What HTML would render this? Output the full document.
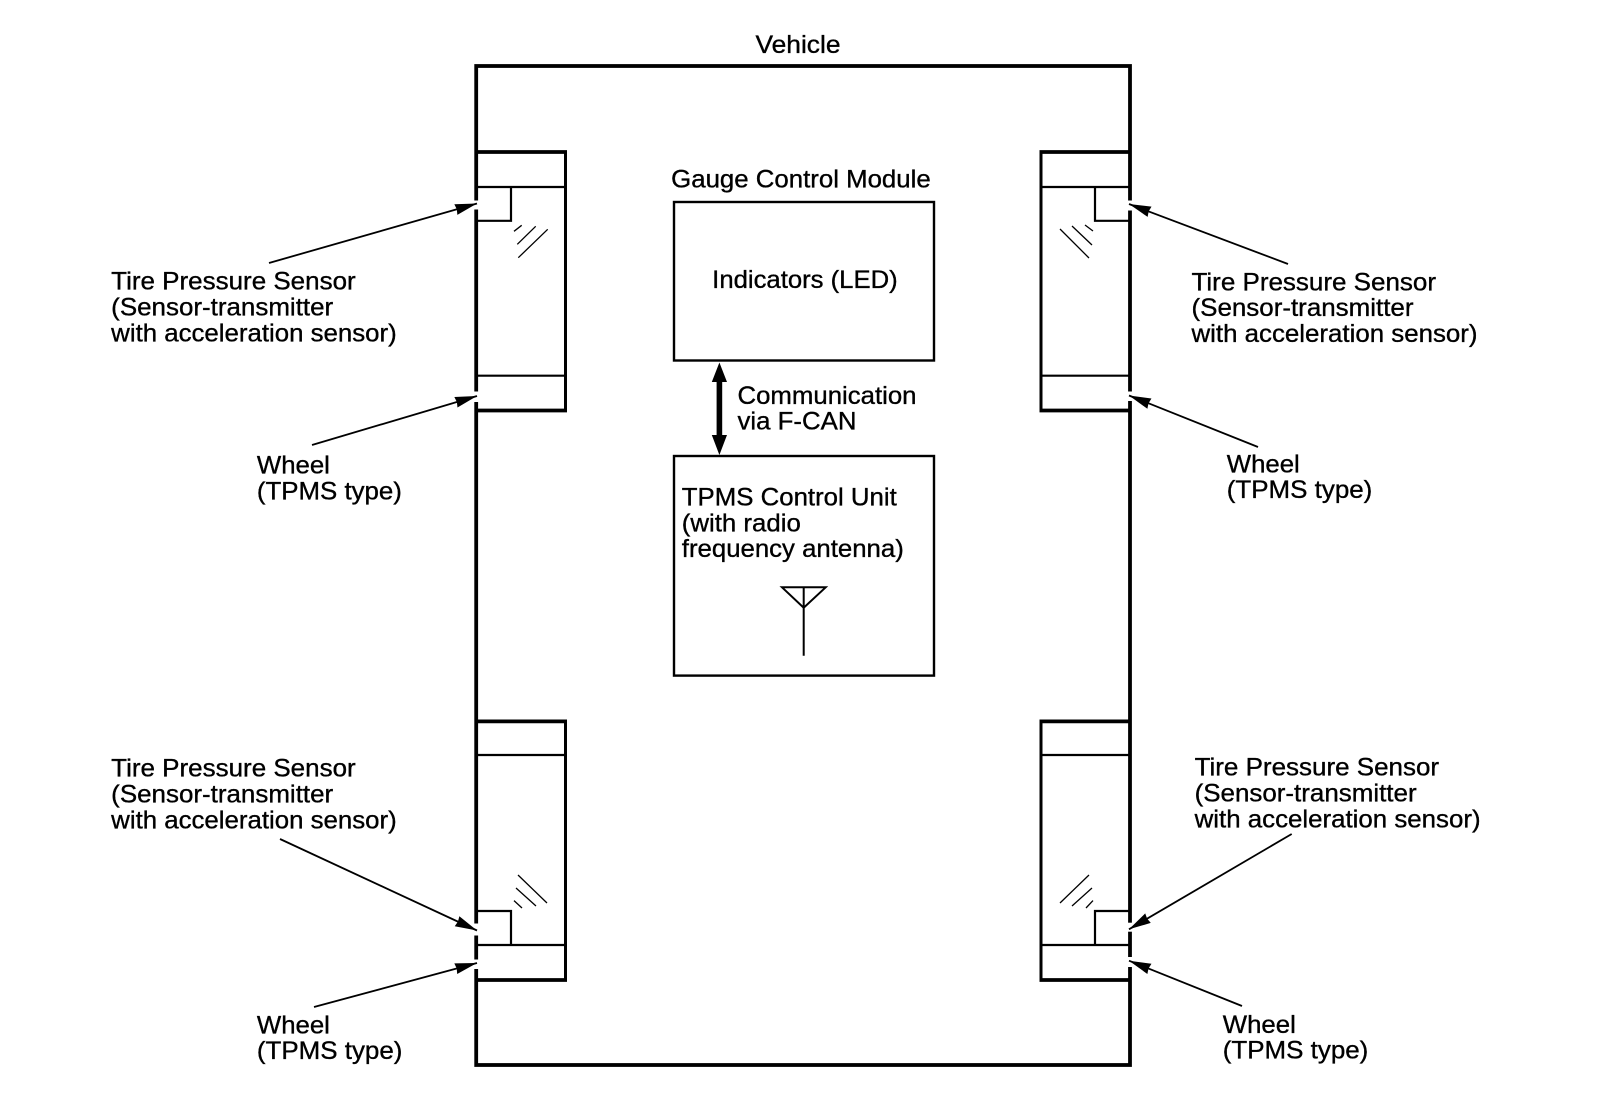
<!DOCTYPE html>
<html>
<head>
<meta charset="utf-8">
<style>
html,body{margin:0;padding:0;background:#fff;width:1600px;height:1104px;overflow:hidden}
svg{display:block}
text{font-family:"Liberation Sans",sans-serif;font-size:25px;fill:#000;stroke:#000;stroke-width:.35px}
</style>
</head>
<body>
<svg width="1600" height="1104" viewBox="0 0 1600 1104" xmlns="http://www.w3.org/2000/svg">
<defs>
<marker id="a" markerUnits="userSpaceOnUse" markerWidth="26" markerHeight="14" refX="24" refY="7" orient="auto"><path d="M24,7 L2,1.5 L3,7 L2,12.5 Z" fill="#000"/></marker>
</defs>
<rect width="1600" height="1104" fill="#fff"/>

<!-- Vehicle outline -->
<rect x="476.2" y="66" width="653.8" height="999" fill="none" stroke="#000" stroke-width="3.8"/>

<g fill="none" stroke="#000">
<!-- Wheel TL -->
<path d="M476,152 H565.5 V410.5 H476" stroke-width="3"/>
<path d="M476,152 H567 M476,410.5 H567" stroke-width="3.8"/>
<path d="M476,187 H565 M476,375.7 H565" stroke-width="2.2"/>
<path d="M511,187 V220.8 H476" stroke-width="2.2"/>
<!-- Wheel TR -->
<path d="M1130,152 H1041 V410.5 H1130" stroke-width="3"/>
<path d="M1130,152 H1039.5 M1130,410.5 H1039.5" stroke-width="3.8"/>
<path d="M1130,187 H1041 M1130,375.7 H1041" stroke-width="2.2"/>
<path d="M1095,187 V220.8 H1130" stroke-width="2.2"/>
<!-- Wheel BL -->
<path d="M476,721.4 H565.5 V980 H476" stroke-width="3"/>
<path d="M476,721.4 H567 M476,980 H567" stroke-width="3.8"/>
<path d="M476,755 H565 M476,945 H565" stroke-width="2.2"/>
<path d="M476,911 H511 V945" stroke-width="2.2"/>
<!-- Wheel BR -->
<path d="M1130,721.4 H1041 V980 H1130" stroke-width="3"/>
<path d="M1130,721.4 H1039.5 M1130,980 H1039.5" stroke-width="3.8"/>
<path d="M1130,755 H1041 M1130,945 H1041" stroke-width="2.2"/>
<path d="M1130,911 H1095 V945" stroke-width="2.2"/>
<!-- Hatches -->
<g stroke-width="1.3">
<path d="M514,231.3 L521.7,225.3 M517.3,244.3 L535.7,226.3 M518.3,257.7 L547.7,229.3"/>
<path d="M1060,229 L1089,258 M1072,226 L1092,245 M1085,225 L1093,231"/>
<path d="M518,875 L547,903 M516,888 L536,906 M514,900.6 L522,908"/>
<path d="M1089,875 L1060,903 M1092,888 L1072,906 M1093,900.6 L1086,908"/>
</g>
<!-- Centre boxes -->
<rect x="674" y="202" width="260" height="158.5" stroke-width="2.4"/>
<rect x="674" y="456" width="260" height="219.6" stroke-width="2.4"/>
<!-- Antenna -->
<path d="M782,587.3 H825.7 L803.7,607.7 Z M803.7,587.3 V655.7" stroke-width="2"/>
</g>

<!-- Gaps in outline at arrow tips -->
<g fill="#fff">
<rect x="473" y="200.5" width="6.5" height="9"/>
<rect x="473" y="391.5" width="6.5" height="10.5"/>
<rect x="1126.5" y="200.5" width="6.5" height="10"/>
<rect x="1126.5" y="391.5" width="6.5" height="9.5"/>
<rect x="473" y="923.5" width="6.5" height="12"/>
<rect x="473" y="959.5" width="6.5" height="9.5"/>
<rect x="1126.5" y="922.7" width="6.5" height="9"/>
<rect x="1126.5" y="957" width="6.5" height="10"/>
</g>

<!-- Leader arrows -->
<g stroke="#000" stroke-width="1.8" fill="none">
<line x1="269" y1="263" x2="477" y2="203.5" marker-end="url(#a)"/>
<line x1="312" y1="445" x2="477" y2="396" marker-end="url(#a)"/>
<line x1="1288" y1="264" x2="1129" y2="204" marker-end="url(#a)"/>
<line x1="1258" y1="447" x2="1129" y2="395.5" marker-end="url(#a)"/>
<line x1="280" y1="839" x2="477" y2="930.5" marker-end="url(#a)"/>
<line x1="314" y1="1007" x2="477" y2="963" marker-end="url(#a)"/>
<line x1="1291.7" y1="834" x2="1129" y2="929.3" marker-end="url(#a)"/>
<line x1="1242" y1="1006" x2="1129" y2="960.7" marker-end="url(#a)"/>
</g>

<!-- Bidirectional arrow -->
<rect x="716.6" y="378" width="5.6" height="60" fill="#000"/>
<path d="M719.4,362.5 L727,382 H711.8 Z M719.4,455 L727,435 H711.8 Z" fill="#000"/>

<!-- Labels -->
<text x="755.5" y="52.8" textLength="85" lengthAdjust="spacingAndGlyphs">Vehicle</text>
<text x="671.2" y="187.7" textLength="259.5" lengthAdjust="spacingAndGlyphs">Gauge Control Module</text>
<text x="712.2" y="288" textLength="185.5" lengthAdjust="spacingAndGlyphs">Indicators (LED)</text>
<text x="737.5" y="404" textLength="179" lengthAdjust="spacingAndGlyphs">Communication</text>
<text x="737.5" y="429.6" textLength="119" lengthAdjust="spacingAndGlyphs">via F-CAN</text>
<text x="681.8" y="505.3" textLength="215" lengthAdjust="spacingAndGlyphs">TPMS Control Unit</text>
<text x="681.8" y="531.6" textLength="119" lengthAdjust="spacingAndGlyphs">(with radio</text>
<text x="681.8" y="557.2" textLength="222" lengthAdjust="spacingAndGlyphs">frequency antenna)</text>

<text x="111.2" y="289.5" textLength="244.5" lengthAdjust="spacingAndGlyphs">Tire Pressure Sensor</text>
<text x="111.2" y="315.5" textLength="222" lengthAdjust="spacingAndGlyphs">(Sensor-transmitter</text>
<text x="111.2" y="341.5" textLength="285.5" lengthAdjust="spacingAndGlyphs">with acceleration sensor)</text>

<text x="1191.5" y="290.5" textLength="244.5" lengthAdjust="spacingAndGlyphs">Tire Pressure Sensor</text>
<text x="1191.5" y="316" textLength="222" lengthAdjust="spacingAndGlyphs">(Sensor-transmitter</text>
<text x="1191.5" y="342" textLength="286" lengthAdjust="spacingAndGlyphs">with acceleration sensor)</text>

<text x="111.2" y="776.6" textLength="244.5" lengthAdjust="spacingAndGlyphs">Tire Pressure Sensor</text>
<text x="111.2" y="802.5" textLength="222" lengthAdjust="spacingAndGlyphs">(Sensor-transmitter</text>
<text x="111.2" y="828.4" textLength="285.5" lengthAdjust="spacingAndGlyphs">with acceleration sensor)</text>

<text x="1194.6" y="775.6" textLength="244.5" lengthAdjust="spacingAndGlyphs">Tire Pressure Sensor</text>
<text x="1194.6" y="801.5" textLength="222" lengthAdjust="spacingAndGlyphs">(Sensor-transmitter</text>
<text x="1194.6" y="827.4" textLength="286" lengthAdjust="spacingAndGlyphs">with acceleration sensor)</text>

<text x="256.9" y="473.6" textLength="73" lengthAdjust="spacingAndGlyphs">Wheel</text>
<text x="256.9" y="499.3" textLength="145" lengthAdjust="spacingAndGlyphs">(TPMS type)</text>
<text x="1226.8" y="472.5" textLength="73" lengthAdjust="spacingAndGlyphs">Wheel</text>
<text x="1226.8" y="498" textLength="145.5" lengthAdjust="spacingAndGlyphs">(TPMS type)</text>
<text x="256.9" y="1033.3" textLength="73" lengthAdjust="spacingAndGlyphs">Wheel</text>
<text x="256.9" y="1059" textLength="145.5" lengthAdjust="spacingAndGlyphs">(TPMS type)</text>
<text x="1222.8" y="1033" textLength="73" lengthAdjust="spacingAndGlyphs">Wheel</text>
<text x="1222.8" y="1058.5" textLength="145.5" lengthAdjust="spacingAndGlyphs">(TPMS type)</text>
</svg>
</body>
</html>
